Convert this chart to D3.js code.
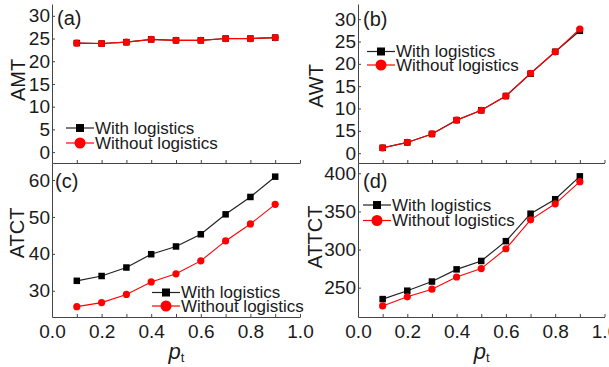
<!DOCTYPE html>
<html>
<head>
<meta charset="utf-8">
<script src="https://cdn.jsdelivr.net/npm/d3@7"></script>
<style>
  body { margin: 0; background: #fff; }
  svg { display: block; font-family: "Liberation Sans", Arial, sans-serif; }
</style>
</head>
<body>
<svg id="chart"></svg>
<script>
let width = 609;
let height = 367;

// p_t values (x axis)
const pt = [0.1, 0.2, 0.3, 0.4, 0.5, 0.6, 0.7, 0.8, 0.9];

// values
const amtWith      = [24.0, 23.9, 24.2, 24.8, 24.6, 24.6, 25.0, 25.0, 25.2];
const amtWithout   = [24.0, 23.9, 24.2, 24.8, 24.6, 24.6, 25.0, 25.0, 25.2];
const awtWith      = [1.2, 2.4, 4.3, 7.4, 9.6, 12.8, 17.8, 22.7, 27.4];
const awtWithout   = [1.2, 2.4, 4.3, 7.4, 9.6, 12.8, 17.9, 22.7, 27.8];
const atctWith     = [32.7, 34.0, 36.3, 39.9, 42.0, 45.3, 50.7, 55.4, 60.9];
const atctWithout  = [25.7, 26.8, 29.0, 32.4, 34.6, 38.1, 43.5, 48.1, 53.4];
const attctWith    = [235, 246, 258, 274, 285, 311, 347, 366, 396];
const attctWithout = [226, 238, 248, 264, 275, 301, 339, 360, 389];

// tick values and labels
const xTicks = [0, 0.1, 0.2, 0.3, 0.4, 0.5, 0.6, 0.7, 0.8, 0.9, 1.0];
const xTickLabels = ["0.0", "", "0.2", "", "0.4", "", "0.6", "", "0.8", "", "1.0"];
const amtTicks = [0, 5, 10, 15, 20, 25, 30];
const awtTicks = [0, 5, 10, 15, 20, 25, 30];
const awtTickLabels = ["0", "15", "10", "15", "20", "25", "30"];
const atctTicks = [30, 40, 50, 60];
const attctTicks = [250, 300, 350, 400];

const seriesNames = ["With logistics", "Without logistics"];

const axisColor = "#444";
const textColor = "#1a1a1a";

const panels = [
    {tag: "(a)", ylabel: "AMT", left: 52, right: 300, top: 4, bottom: 163,
     domain: [-2.4, 32.6], ticks: amtTicks, labels: null,
     with: amtWith, without: amtWithout, xLabels: false,
     legend: {x: 66, y: 128, gap: 15}, ylabelPos: [18, 80], tagPos: [57, 25]},
    {tag: "(b)", ylabel: "AWT", left: 358, right: 604.5, top: 4, bottom: 163,
     domain: [-2.2, 33.4], ticks: awtTicks, labels: awtTickLabels,
     with: awtWith, without: awtWithout, xLabels: false,
     legend: {x: 367, y: 51.5, gap: 13.5}, ylabelPos: [316, 86], tagPos: [363, 26]},
    {tag: "(c)", ylabel: "ATCT", left: 52, right: 300, top: 163, bottom: 317,
     domain: [22.9, 64.6], ticks: atctTicks, labels: null,
     with: atctWith, without: atctWithout, xLabels: true,
     legend: {x: 152, y: 292.5, gap: 13.5}, ylabelPos: [17, 233], tagPos: [55, 188]},
    {tag: "(d)", ylabel: "ATTCT", left: 358, right: 604.5, top: 163, bottom: 317,
     domain: [211.5, 413.5], ticks: attctTicks, labels: null,
     with: attctWith, without: attctWithout, xLabels: true,
     legend: {x: 363, y: 205, gap: 15.5}, ylabelPos: [315, 237], tagPos: [363, 188]}
];

const svg = d3.select("#chart")
    .attr("width", width)
    .attr("height", height)
    .attr("viewBox", [0, 0, width, height]);

function square(g, cx, cy, s, color) {
    g.append("rect")
        .attr("x", cx - s / 2).attr("y", cy - s / 2)
        .attr("width", s).attr("height", s)
        .attr("fill", color);
}

panels.forEach(p => {
    let x = d3.scaleLinear().domain([0, 1]).range([p.left, p.right]);
    let y = d3.scaleLinear().domain(p.domain).range([p.bottom, p.top]);

    const g = svg.append("g");

    // x axis (ticks point inward)
    const xa = g.append("g")
        .attr("transform", `translate(0,${p.bottom})`)
        .call(d3.axisBottom(x).tickValues(xTicks).tickSizeInner(-3).tickSizeOuter(0)
            .tickPadding(8)
            .tickFormat((d, i) => p.xLabels ? xTickLabels[i] : ""));
    xa.select(".domain").attr("stroke", axisColor);
    xa.selectAll(".tick line").attr("stroke", axisColor);
    xa.selectAll("text").attr("font-size", 19).attr("fill", textColor)
        .attr("font-family", "Liberation Sans, Arial, sans-serif");

    // y axis
    const ya = g.append("g")
        .attr("transform", `translate(${p.left},0)`)
        .call(d3.axisLeft(y).tickValues(p.ticks).tickSizeInner(-3).tickSizeOuter(0)
            .tickPadding(2)
            .tickFormat((d, i) => p.labels ? p.labels[i] : d));
    ya.select(".domain").attr("stroke", axisColor);
    ya.selectAll(".tick line").attr("stroke", axisColor);
    ya.selectAll("text").attr("font-size", 19).attr("fill", textColor)
        .attr("font-family", "Liberation Sans, Arial, sans-serif");

    // y label
    g.append("text")
        .attr("transform", `translate(${p.ylabelPos[0]},${p.ylabelPos[1]}) rotate(-90)`)
        .attr("text-anchor", "middle")
        .attr("dominant-baseline", "central")
        .attr("font-size", 20)
        .attr("fill", textColor)
        .text(p.ylabel);

    // panel tag
    g.append("text")
        .attr("x", p.tagPos[0]).attr("y", p.tagPos[1])
        .attr("font-size", 20)
        .attr("fill", textColor)
        .text(p.tag);

    const line = d3.line().x(d => x(d[0])).y(d => y(d[1]));
    const black = pt.map((v, i) => [v, p.with[i]]);
    const red = pt.map((v, i) => [v, p.without[i]]);

    g.append("path").datum(black)
        .attr("d", line).attr("fill", "none")
        .attr("stroke", "#222").attr("stroke-width", 1.2);
    black.forEach(d => square(g, x(d[0]), y(d[1]), 6.5, "#000"));

    g.append("path").datum(red)
        .attr("d", line).attr("fill", "none")
        .attr("stroke", "#ff0000").attr("stroke-width", 1.1);
    g.selectAll("circle.pt").data(red).join("circle")
        .attr("class", "pt")
        .attr("cx", d => x(d[0])).attr("cy", d => y(d[1]))
        .attr("r", 3.6).attr("fill", "#ff0000");

    // legend
    const lg = g.append("g");
    const L = p.legend;
    [0, 1].forEach(i => {
        const ly = L.y + i * L.gap;
        lg.append("line")
            .attr("x1", L.x).attr("x2", L.x + 28)
            .attr("y1", ly).attr("y2", ly)
            .attr("stroke", i ? "#ff0000" : "#222").attr("stroke-width", 1.2);
        if (i) {
            lg.append("circle").attr("cx", L.x + 14).attr("cy", ly).attr("r", 5.5).attr("fill", "#ff0000");
        } else {
            square(lg, L.x + 14, ly, 8, "#000");
        }
        lg.append("text")
            .attr("x", L.x + 29).attr("y", ly)
            .attr("dominant-baseline", "central")
            .attr("font-size", 17)
            .attr("fill", textColor)
            .text(seriesNames[i]);
    });

    // x label p_t
    if (p.xLabels) {
        const t = g.append("text")
            .attr("x", x(0.47)).attr("y", 359)
            .attr("fill", textColor);
        t.append("tspan").attr("font-style", "italic").attr("font-size", 22).text("p");
        t.append("tspan").attr("font-size", 13).attr("dy", 3).text("t");
    }
});
</script>
</body>
</html>
